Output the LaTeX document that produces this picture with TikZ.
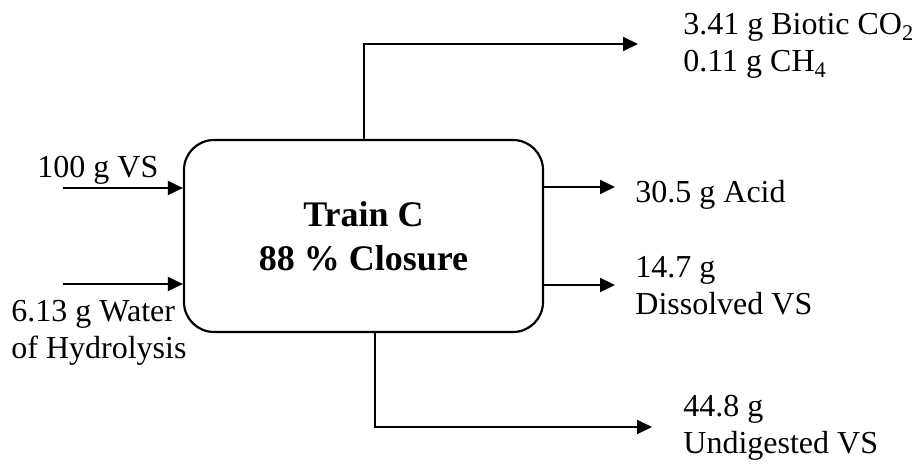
\documentclass[tikz,border=0pt]{standalone}
\usepackage{fontspec}
\setmainfont{Liberation Serif}
\usetikzlibrary{arrows.meta}
\begin{document}
\begin{tikzpicture}[x=0.5pt,y=-0.5pt,
  flow/.style={line width=1pt,-{Triangle[length=7.5pt,width=7pt]}},
  lbl/.style={anchor=base west,inner sep=0pt,font=\fontsize{16}{18.5}\selectfont},
  reactor/.style={draw,line width=1.1pt,rounded corners=15pt,minimum width=179.5pt,
    minimum height=96pt,align=center,inner sep=0pt,
    font=\fontsize{18}{22}\selectfont\bfseries}]
\useasboundingbox (0,0) rectangle (917,464);

% digester block
\node[reactor] (box) at (363.5,236) {Train C\\88 \% Closure};

% stream end points
\coordinate (vsin)    at (63,188);
\coordinate (waterin) at (63,284);
\coordinate (gasend)  at (638,44);
\coordinate (acidend) at (615,187);
\coordinate (dissend) at (615,285);
\coordinate (solend)  at (652,427);

% feeds
\draw[flow] (vsin) -- (vsin -| box.west);
\draw[flow] (waterin) -- (waterin -| box.west);

% products
\draw[flow] (box.north) |- (gasend);
\draw[flow] (acidend -| box.east) -- (acidend);
\draw[flow] (dissend -| box.east) -- (dissend);
\draw[flow] ([xshift=5.75pt]box.south) |- (solend);

% stream labels
\node[lbl] (vs)     at (37,178)  {100 g VS};
\node[lbl] (water1) at (11,322)  {6.13 g Water};
\node[lbl] (water2) at (11,359)  {of Hydrolysis};
\node[lbl] (gas1)   at (683,35)  {3.41 g Biotic CO\textsubscript{2}};
\node[lbl] (gas2)   at (683,72)  {0.11 g CH\textsubscript{4}};
\node[lbl] (acid)   at (635,203) {30.5 g Acid};
\node[lbl] (diss1)  at (635,278) {14.7 g};
\node[lbl] (diss2)  at (635,315) {Dissolved VS};
\node[lbl] (sol1)   at (683,417) {44.8 g};
\node[lbl] (sol2)   at (683,454) {Undigested VS};
\end{tikzpicture}
\end{document}
